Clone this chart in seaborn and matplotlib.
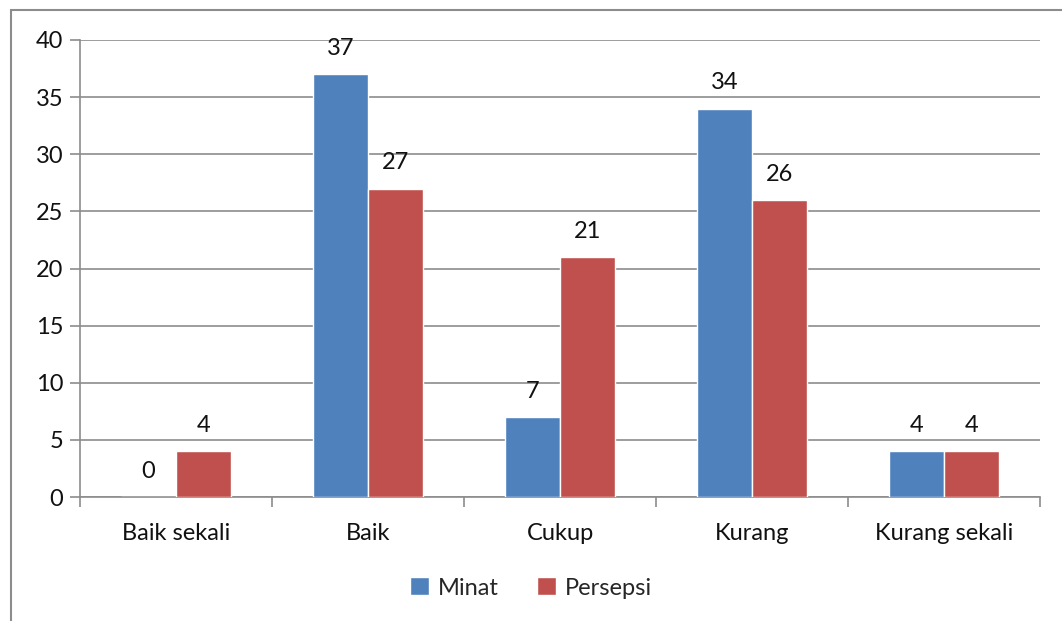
import matplotlib.pyplot as plt
import pandas as pd
import seaborn as sns
from matplotlib.patches import Rectangle

categories = ['Baik sekali', 'Baik', 'Cukup', 'Kurang', 'Kurang sekali']
minat = [0, 37, 7, 34, 4]
persepsi = [4, 27, 21, 26, 4]
series_names = ['Minat', 'Persepsi']
y_ticks = [0, 5, 10, 15, 20, 25, 30, 35, 40]

sns.set_style('white')
plt.rcParams['font.family'] = ['Lato', 'DejaVu Sans']

df = pd.DataFrame({
    'Kategori': categories * 2,
    'Jumlah': minat + persepsi,
    'Seri': [series_names[0]] * len(categories) + [series_names[1]] * len(categories),
})

fig = plt.figure(figsize=(10.62, 6.21), dpi=100)
ax = fig.add_axes([80 / 1062, 1 - 497 / 621, 960 / 1062, 457 / 621])

grid_color = '#8c8c8c'
fs = 17
sns.barplot(data=df, x='Kategori', y='Jumlah', hue='Seri',
            palette=['#4F81BD', '#C0504D'], width=0.575, gap=0,
            saturation=1, ax=ax, zorder=3)

ax.set_ylim(0, 40)
ax.set_xlim(-0.5, len(categories) - 0.5)
ax.set_yticks(y_ticks)
ax.yaxis.grid(True, color=grid_color, linewidth=1.2, zorder=0)
ax.set_axisbelow(True)
for s in ['top', 'right']:
    ax.spines[s].set_visible(False)
for s in ['left', 'bottom']:
    ax.spines[s].set_color(grid_color)
    ax.spines[s].set_linewidth(1.2)

# x ticks at category boundaries, labels at centers
ax.set_xticks([i - 0.5 for i in range(len(categories) + 1)], minor=False)
ax.set_xticklabels([''] * (len(categories) + 1))
ax.set_xticks(range(len(categories)), minor=True)
ax.set_xticklabels(categories, minor=True, fontsize=fs, color='#111111')
ax.tick_params(axis='x', which='major', bottom=True, direction='out', length=7,
               width=1.2, color=grid_color)
ax.tick_params(axis='x', which='minor', bottom=True, length=0, pad=19)
ax.tick_params(axis='y', left=True, direction='out', length=7, width=1.2,
               color=grid_color, labelsize=fs, labelcolor='#111111', pad=5)
ax.set_xlabel('')
ax.set_ylabel('')

for container in ax.containers:
    ax.bar_label(container, fmt='%d', padding=11, fontsize=fs, color='#111111')

handles, labels = ax.get_legend_handles_labels()
ax.legend(handles, labels, loc='center', bbox_to_anchor=(0.5, 1 - 588 / 621),
          bbox_transform=fig.transFigure, ncol=2, frameon=False, fontsize=fs,
          handlelength=0.8, handleheight=0.8, handletextpad=0.4, columnspacing=1.6)

# outer chart border
fig.patches.append(Rectangle((11 / 1062, -0.05), 1.1, 1 - 10 / 621 + 0.05,
                             transform=fig.transFigure, fill=False,
                             edgecolor=grid_color, linewidth=1.5))

fig.savefig('out.png', dpi=100)
